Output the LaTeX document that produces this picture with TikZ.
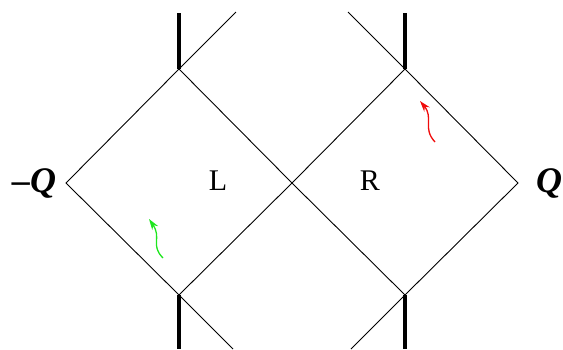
\documentclass[tikz,border=0pt]{standalone}
\usepackage{fontspec}
\setmainfont{Liberation Serif}
\usetikzlibrary{arrows.meta}
\begin{document}
\begin{tikzpicture}[x=1pt,y=-1pt,
  thin line/.style={line width=0.9pt,black},
  horizon/.style={line width=4pt,black},
  wig/.style={line width=1.3pt,-{Stealth[length=11pt,width=7pt]}},
  lbl/.style={font=\fontsize{30}{30}\selectfont},
  qlbl/.style={font=\fontsize{36}{36}\selectfont\bfseries\itshape}]
\useasboundingbox (0,0) rectangle (563,349);
\coordinate (W) at (66,183);
\coordinate (C) at (292,183);
\coordinate (E) at (518,183);
\coordinate (TL) at (179,69);
\coordinate (TR) at (405,69);
\coordinate (BL) at (179,295);
\coordinate (BR) at (405,295);
\coordinate (TLu) at (179,13);
\coordinate (TRu) at (405,13);
\coordinate (BLd) at (179,349);
\coordinate (BRd) at (405,349);
\coordinate (TLx) at (236,12);
\coordinate (TRx) at (348,12);
\coordinate (BLx) at (233,349);
\coordinate (BRx) at (351,349);
\draw[thin line] (W) -- (TL) -- (C) -- (TR) -- (E) -- (BR) -- (C) -- (BL) -- cycle;
\draw[thin line] (TL) -- (TLx);
\draw[thin line] (TR) -- (TRx);
\draw[thin line] (BL) -- (BLx);
\draw[thin line] (BR) -- (BRx);
\draw[horizon] (TL) -- (TLu);
\draw[horizon] (TR) -- (TRu);
\draw[horizon] (BL) -- (BLd);
\draw[horizon] (BR) -- (BRd);
\node[lbl] (L) at (218,181) {L};
\node[lbl] (R) at (370,181) {R};
\node[qlbl] (mQ) at (34,183) {\textendash Q};
\node[qlbl] (Q) at (549,183) {Q};
\coordinate (g0) at (163,258);
\coordinate (g1) at (149,219);
\draw[wig,color={rgb,255:red,30;green,230;blue,30}] (g0) .. controls (150,245) and (162,238) .. (g1);
\coordinate (r0) at (435,142);
\coordinate (r1) at (420,101);
\draw[wig,color={rgb,255:red,240;green,10;blue,10}] (r0) .. controls (422,128) and (434,118) .. (r1);
\end{tikzpicture}
\end{document}
